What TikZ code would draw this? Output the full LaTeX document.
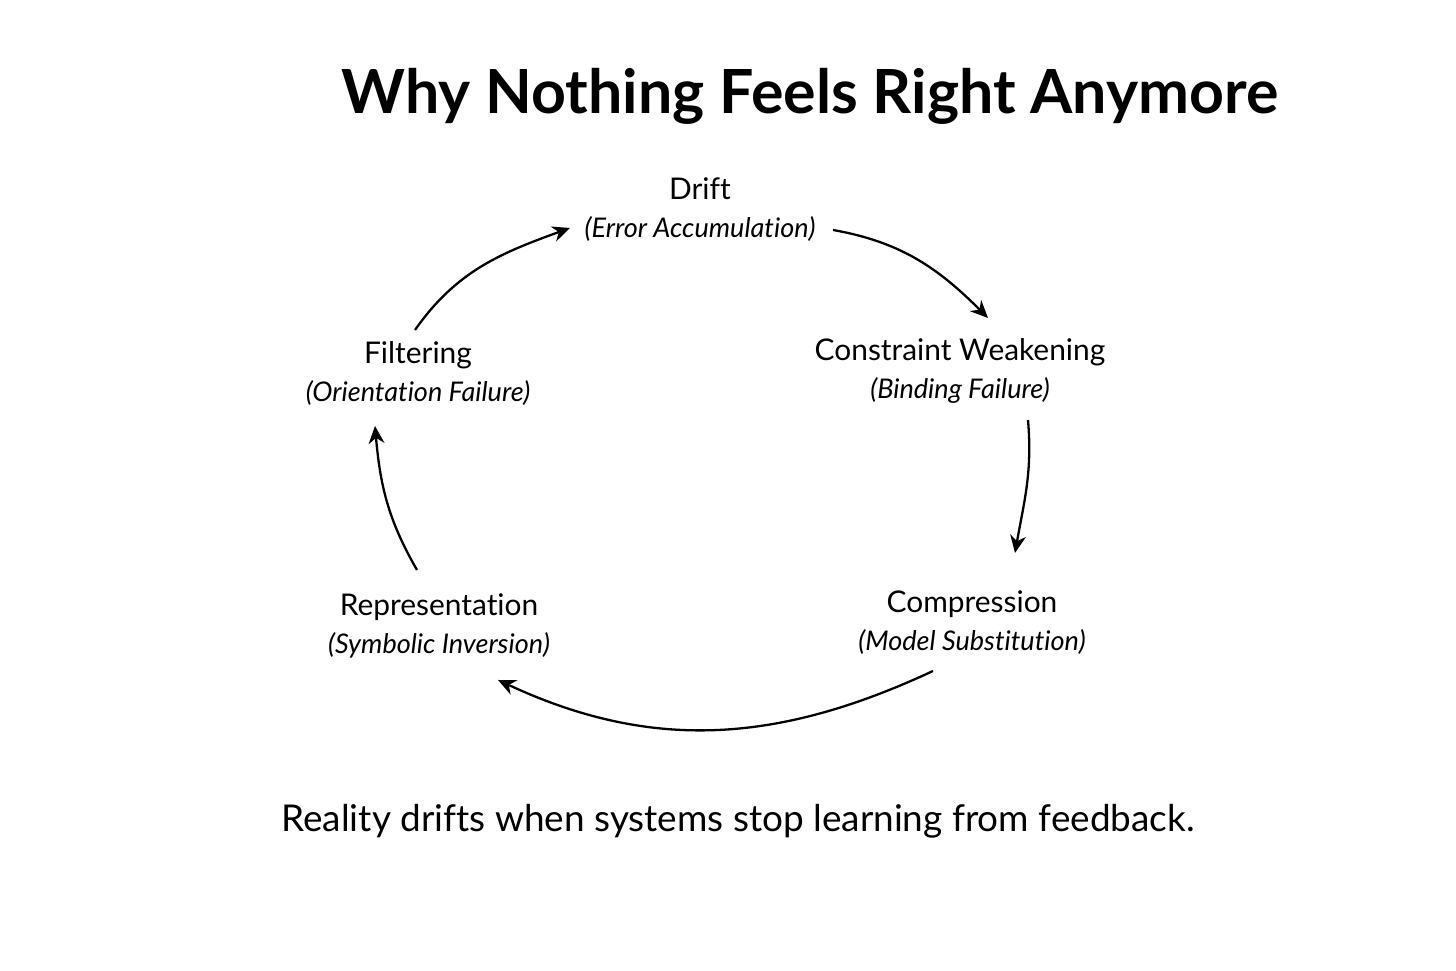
\documentclass[tikz,border=0pt]{standalone}
\usepackage{fontspec}
\setmainfont{Lato}[Ligatures=NoCommon]
\usetikzlibrary{arrows.meta}
\tikzset{
  stage/.style={align=center, font=\fontsize{8.5}{10.8}\selectfont},
  cyc/.style={-{Stealth[length=5pt,width=4.5pt]}, line width=0.65pt}
}
\newcommand{\sub}[1]{{\itshape\fontsize{7.7}{10.8}\selectfont(#1)}}
\begin{document}
\begin{tikzpicture}[x=0.01cm,y=-0.01cm]
      \fill[white] (0,0) rectangle (1456,971);
      \useasboundingbox (0,0) rectangle (1456,971);
      \node[font=\fontsize{17.3}{20}\selectfont\bfseries] (title) at (810,96) {Why Nothing Feels Right Anymore};
      \draw
        (700,210) node[stage] (drift){Drift\\\sub{Error Accumulation}}
        (960,371) node[stage] (weaken){Constraint Weakening\\\sub{Binding Failure}}
        (972,623) node[stage] (compress){Compression\\\sub{Model Substitution}}
        (439,626) node[stage] (represent){Representation\\\sub{Symbolic Inversion}}
        (418,373) node[stage] (filter){Filtering\\\sub{Orientation Failure}};
      \node[font=\fontsize{10.5}{13}\selectfont] (moral) at (738,821) {Reality drifts when systems stop learning from feedback.};
      \begin{scope}[cyc]
        \draw ([shift={(133,20)}]drift.center) to[out=-10,in=135] ([shift={(28,-53)}]weaken.center);
        \draw ([shift={(68,49)}]weaken.center) to[out=-85,in=80] ([shift={(43,-70)}]compress.center);
        \draw ([shift={(-39,48)}]compress.center) to[out=-155,in=-25] ([shift={(59,54)}]represent.center);
        \draw ([shift={(-22,-56)}]represent.center) to[out=120,in=-85] ([shift={(-43,53)}]filter.center);
        \draw ([shift={(-3,-43)}]filter.center) to[out=55,in=200] ([shift={(-130,18)}]drift.center);
      \end{scope}
    \end{tikzpicture}
\end{document}
